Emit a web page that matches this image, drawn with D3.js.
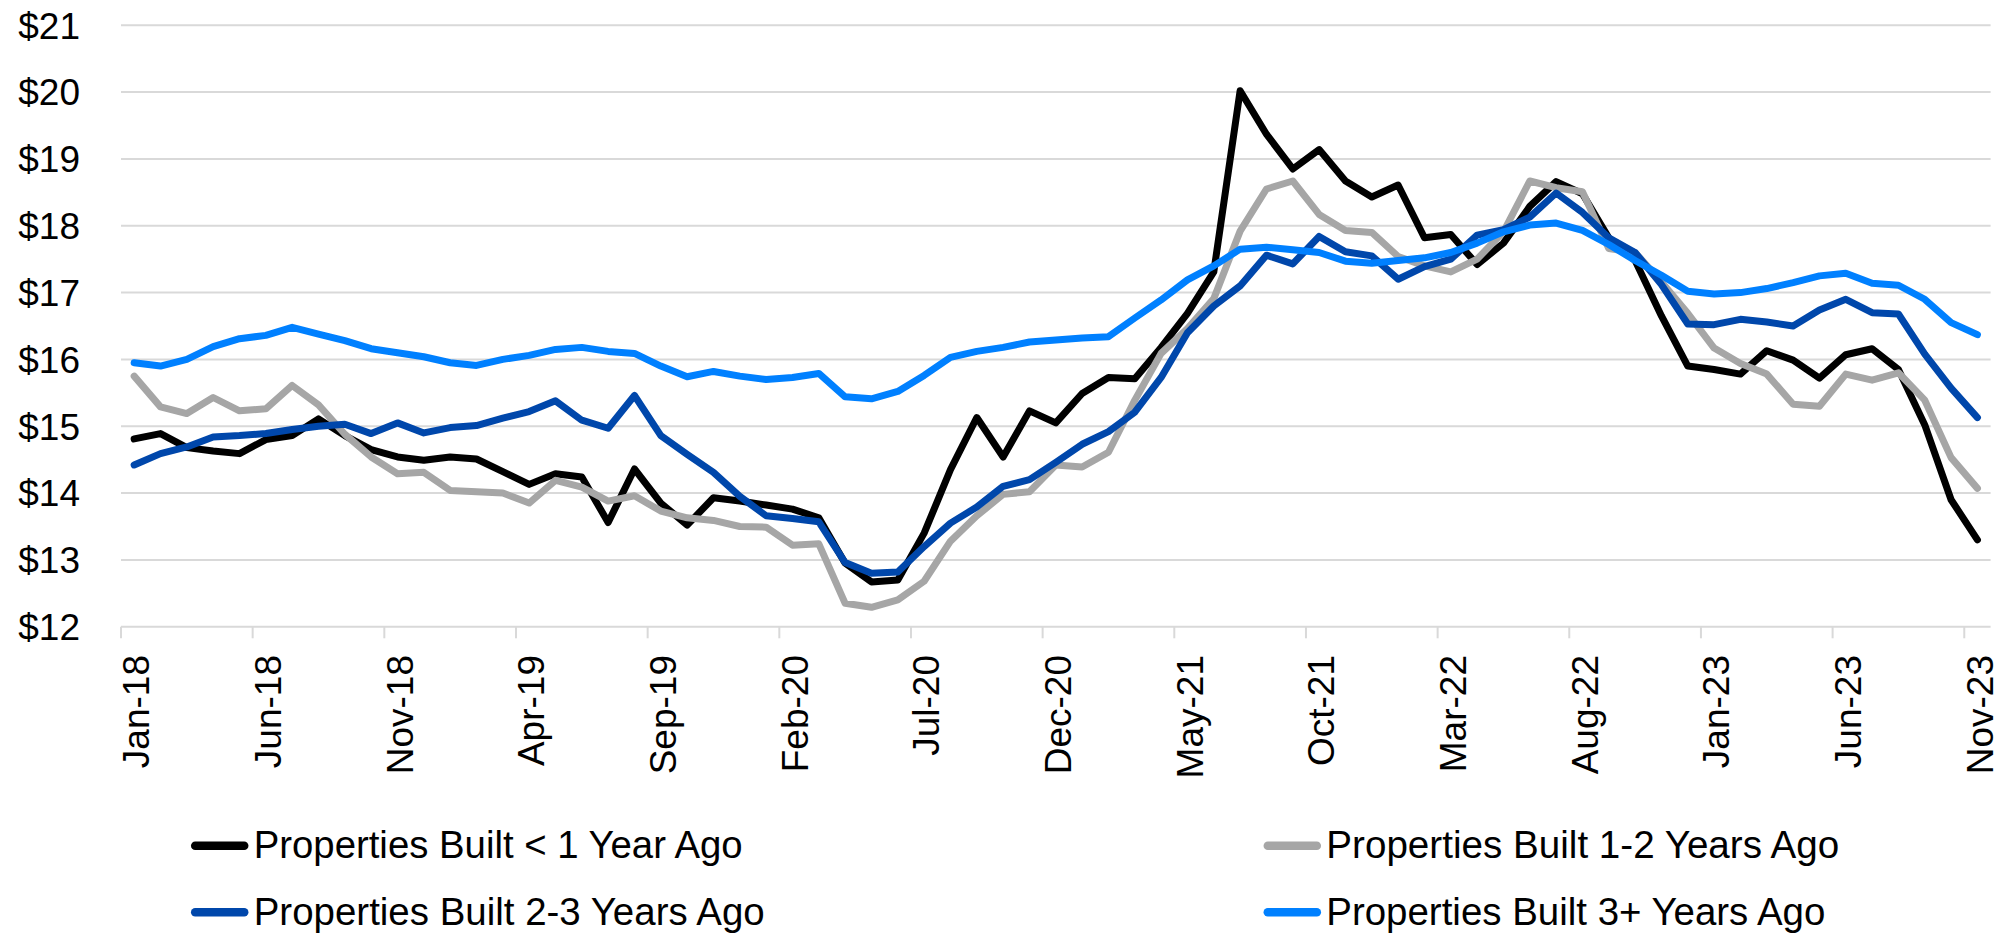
<!DOCTYPE html>
<html>
<head>
<meta charset="utf-8">
<script src="https://cdn.jsdelivr.net/npm/d3@7"></script>
<style>
  html, body { margin: 0; padding: 0; background: #ffffff; }
  svg { display: block; }
  text { font-family: "Liberation Sans", Arial, sans-serif; fill: #000; }
</style>
</head>
<body>
<svg id="chart" width="2008" height="933"></svg>
<script>
const months = [
  "Jan-18","Feb-18","Mar-18","Apr-18","May-18","Jun-18","Jul-18","Aug-18","Sep-18","Oct-18","Nov-18","Dec-18",
  "Jan-19","Feb-19","Mar-19","Apr-19","May-19","Jun-19","Jul-19","Aug-19","Sep-19","Oct-19","Nov-19","Dec-19",
  "Jan-20","Feb-20","Mar-20","Apr-20","May-20","Jun-20","Jul-20","Aug-20","Sep-20","Oct-20","Nov-20","Dec-20",
  "Jan-21","Feb-21","Mar-21","Apr-21","May-21","Jun-21","Jul-21","Aug-21","Sep-21","Oct-21","Nov-21","Dec-21",
  "Jan-22","Feb-22","Mar-22","Apr-22","May-22","Jun-22","Jul-22","Aug-22","Sep-22","Oct-22","Nov-22","Dec-22",
  "Jan-23","Feb-23","Mar-23","Apr-23","May-23","Jun-23","Jul-23","Aug-23","Sep-23","Oct-23","Nov-23"
];

const tickLabels = ["Jan-18","Jun-18","Nov-18","Apr-19","Sep-19","Feb-20","Jul-20","Dec-20",
  "May-21","Oct-21","Mar-22","Aug-22","Jan-23","Jun-23","Nov-23"];

const yTicks = [12, 13, 14, 15, 16, 17, 18, 19, 20, 21];

const seriesNames = [
  "Properties Built < 1 Year Ago",
  "Properties Built 1-2 Years Ago",
  "Properties Built 2-3 Years Ago",
  "Properties Built 3+ Years Ago"
];

const builtUnder1 = [
  14.81,14.89,14.68,14.63,14.59,14.80,14.86,15.11,14.86,14.65,14.54,14.49,
  14.54,14.51,14.32,14.13,14.29,14.24,13.56,14.36,13.85,13.52,13.93,13.88,
  13.82,13.76,13.63,12.95,12.67,12.70,13.40,14.35,15.13,14.54,15.23,15.05,
  15.49,15.73,15.71,16.18,16.69,17.31,20.02,19.37,18.85,19.14,18.67,18.43,
  18.61,17.82,17.87,17.42,17.74,18.29,18.66,18.48,17.82,17.48,16.65,15.90,
  15.85,15.78,16.13,15.99,15.72,16.07,16.16,15.85,15.02,13.90,13.30
];

const built1to2 = [
  15.75,15.29,15.19,15.43,15.23,15.26,15.61,15.32,14.88,14.54,14.29,14.31,
  14.04,14.02,14.00,13.85,14.19,14.09,13.88,13.96,13.73,13.63,13.59,13.50,
  13.49,13.22,13.24,12.35,12.29,12.40,12.68,13.28,13.66,13.98,14.02,14.42,
  14.39,14.61,15.39,16.09,16.46,16.91,17.92,18.55,18.67,18.17,17.93,17.90,
  17.54,17.40,17.31,17.50,17.91,18.67,18.57,18.51,17.66,17.60,17.16,16.69,
  16.17,15.94,15.78,15.33,15.30,15.78,15.69,15.80,15.39,14.53,14.07
];

const built2to3 = [
  14.42,14.59,14.69,14.84,14.86,14.89,14.95,15.00,15.03,14.89,15.05,14.90,
  14.98,15.01,15.12,15.22,15.38,15.09,14.97,15.46,14.86,14.58,14.31,13.95,
  13.66,13.62,13.57,12.96,12.80,12.82,13.20,13.55,13.79,14.10,14.20,14.46,
  14.73,14.92,15.21,15.73,16.40,16.80,17.10,17.56,17.43,17.84,17.61,17.55,
  17.20,17.39,17.50,17.86,17.94,18.13,18.49,18.20,17.82,17.60,17.12,16.53,
  16.52,16.60,16.56,16.50,16.74,16.90,16.70,16.68,16.08,15.57,15.13
];

const built3plus = [
  15.95,15.90,16.00,16.19,16.31,16.36,16.48,16.38,16.28,16.16,16.10,16.04,
  15.95,15.91,16.00,16.06,16.15,16.18,16.12,16.09,15.90,15.74,15.82,15.75,
  15.70,15.73,15.79,15.44,15.41,15.52,15.76,16.03,16.12,16.18,16.26,16.29,
  16.32,16.34,16.62,16.89,17.19,17.40,17.65,17.68,17.64,17.60,17.47,17.44,
  17.48,17.52,17.60,17.74,17.91,18.01,18.04,17.93,17.72,17.48,17.26,17.02,
  16.98,17.00,17.06,17.15,17.25,17.29,17.14,17.11,16.90,16.55,16.37
];

const seriesColors = ["#000000", "#a6a6a6", "#0047ab", "#0080ff"];
const seriesValues = [builtUnder1, built1to2, built2to3, built3plus];

const svg = d3.select("#chart");
svg.append("rect").attr("width", 2008).attr("height", 933).attr("fill", "#ffffff");

const plotLeft = 121, plotRight = 1990.6, plotTop = 25.3, plotBottom = 626.7;

const x = d3.scaleBand().domain(months).range([plotLeft, plotRight]).padding(0);
const y = d3.scaleLinear().domain([12, 21]).range([plotBottom, plotTop]);
const cx = m => x(m) + x.bandwidth() / 2;

// gridlines
svg.append("g").selectAll("line").data(yTicks).join("line")
  .attr("x1", plotLeft).attr("x2", plotRight)
  .attr("y1", d => y(d)).attr("y2", d => y(d))
  .attr("stroke", "#d9d9d9").attr("stroke-width", 2);

// y labels
svg.append("g").selectAll("text").data(yTicks).join("text")
  .attr("x", 80).attr("y", d => y(d)).attr("dy", "0.36em")
  .attr("text-anchor", "end")
  .style("font-size", "37px")
  .text(d => "$" + d);

// x tick marks
svg.append("g").selectAll("line").data(tickLabels).join("line")
  .attr("x1", d => x(d)).attr("x2", d => x(d))
  .attr("y1", plotBottom).attr("y2", 638.3)
  .attr("stroke", "#d9d9d9").attr("stroke-width", 2);

// x labels
svg.append("g").selectAll("text").data(tickLabels).join("text")
  .attr("transform", d => `translate(${cx(d) + 2},655) rotate(-90)`)
  .attr("text-anchor", "end")
  .attr("dy", "0.36em")
  .style("font-size", "37px")
  .text(d => d);

// lines
const line = d3.line()
  .x((d, i) => cx(months[i]))
  .y(d => y(d));

svg.append("g").selectAll("path").data(seriesValues).join("path")
  .attr("d", d => line(d))
  .attr("fill", "none")
  .attr("stroke", (d, i) => seriesColors[i])
  .attr("stroke-width", 7)
  .attr("stroke-linejoin", "round")
  .attr("stroke-linecap", "round");

// legend
const legendItems = [
  { name: seriesNames[0], color: seriesColors[0], x: 190.7, y: 845.7, w: 489 },
  { name: seriesNames[1], color: seriesColors[1], x: 1263.3, y: 845.7, w: 513 },
  { name: seriesNames[2], color: seriesColors[2], x: 190.7, y: 912.3, w: 511 },
  { name: seriesNames[3], color: seriesColors[3], x: 1263.3, y: 912.3, w: 499 }
];
const lg = svg.append("g").selectAll("g").data(legendItems).join("g");
lg.append("line")
  .attr("x1", d => d.x + 4.5).attr("x2", d => d.x + 53.5)
  .attr("y1", d => d.y).attr("y2", d => d.y)
  .attr("stroke", d => d.color).attr("stroke-width", 8.5)
  .attr("stroke-linecap", "round");
lg.append("text")
  .attr("x", d => d.x + 63).attr("y", d => d.y + 12.6)
  .style("font-size", "38px")
  .attr("textLength", d => d.w)
  .attr("lengthAdjust", "spacingAndGlyphs")
  .text(d => d.name);
</script>
</body>
</html>
